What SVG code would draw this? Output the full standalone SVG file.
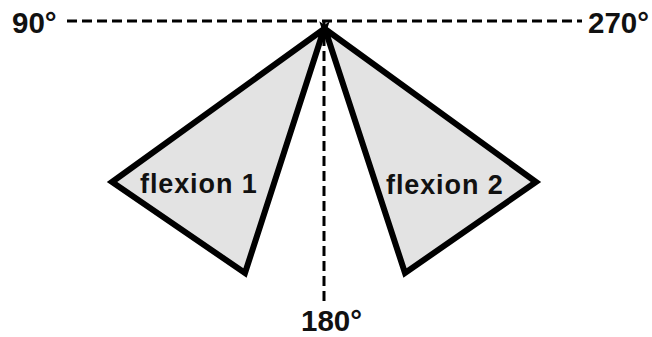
<svg xmlns="http://www.w3.org/2000/svg" width="652" height="337" viewBox="0 0 652 337">
<style>
.lbl{font-family:"Liberation Sans",Arial,sans-serif;font-weight:bold;fill:#111;}
.deg{font-size:29.5px;}
.flx{font-size:27px;letter-spacing:0.9px;}
.tri{fill:#e3e3e3;stroke:#000;stroke-width:6;stroke-linejoin:miter;stroke-miterlimit:6;}
.dash{stroke:#000;stroke-width:3;stroke-dasharray:10 5;fill:none;}
</style>
<rect width="652" height="337" fill="#fff"/>
<g id="axes">
<line class="dash" x1="67" y1="21" x2="582" y2="21"/>
<line class="dash" x1="324" y1="21" x2="324" y2="304"/>
</g>
<g id="flexion1">
<polygon class="tri" points="324,29 112,182 245,273"/>
<text class="lbl flx" x="140" y="193">flexion 1</text>
</g>
<g id="flexion2">
<polygon class="tri" points="325,29 536,182 405,273"/>
<text class="lbl flx" x="386" y="194">flexion 2</text>
</g>
<g id="labels">
<text class="lbl deg" x="12" y="33">90°</text>
<text class="lbl deg" x="588" y="33">270°</text>
<text class="lbl deg" x="301" y="331">180°</text>
</g>
</svg>
